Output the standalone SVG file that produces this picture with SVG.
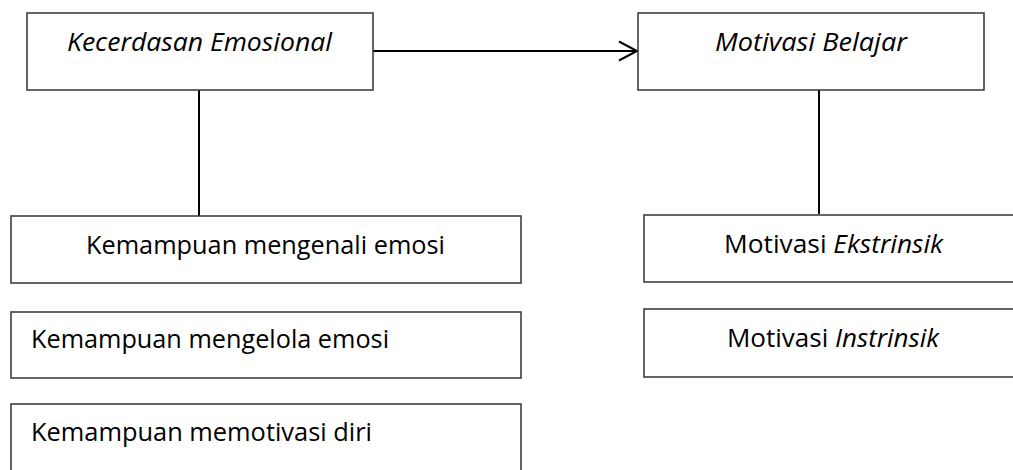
<svg xmlns="http://www.w3.org/2000/svg" width="1013" height="470" viewBox="0 0 1013 470">
<style>
.box{fill:#fff;stroke:#333;stroke-width:1.5}
.t{font-family:"Open Sans","Liberation Sans",sans-serif;font-size:26px;fill:#000}
.i{font-style:italic}
.con{stroke:#000;stroke-width:2;fill:none}
</style>
<rect width="1013" height="470" fill="#fff"/>
<g id="connectors">
<line class="con" x1="373" y1="51" x2="637" y2="51" stroke-width="2.5"/>
<polyline class="con" points="619,41.5 637,51 619,60.5" stroke-width="2.5"/>
<line class="con" x1="199" y1="90" x2="199" y2="216"/>
<line class="con" x1="819" y1="90" x2="819" y2="214"/>
</g>
<g id="kecerdasan">
<rect class="box" x="27" y="13" width="346" height="77"/>
<text class="t i" x="67" y="51" textLength="265" lengthAdjust="spacingAndGlyphs">Kecerdasan Emosional</text>
</g>
<g id="motivasi-belajar">
<rect class="box" x="638" y="13" width="346" height="77"/>
<text class="t i" x="715" y="51" textLength="192" lengthAdjust="spacingAndGlyphs">Motivasi Belajar</text>
</g>
<g id="mengenali">
<rect class="box" x="11" y="216" width="510" height="67"/>
<text class="t" x="86" y="254" textLength="359" lengthAdjust="spacingAndGlyphs">Kemampuan mengenali emosi</text>
</g>
<g id="mengelola">
<rect class="box" x="11" y="312" width="510" height="66"/>
<text class="t" x="31" y="348" textLength="358" lengthAdjust="spacingAndGlyphs">Kemampuan mengelola emosi</text>
</g>
<g id="memotivasi">
<rect class="box" x="11" y="404" width="510" height="80"/>
<text class="t" x="31" y="441" textLength="341" lengthAdjust="spacingAndGlyphs">Kemampuan memotivasi diri</text>
</g>
<g id="ekstrinsik">
<rect class="box" x="644" y="215" width="380" height="67"/>
<text class="t" x="724" y="253" textLength="219" lengthAdjust="spacingAndGlyphs">Motivasi <tspan class="i">Ekstrinsik</tspan></text>
</g>
<g id="instrinsik">
<rect class="box" x="644" y="309" width="380" height="68"/>
<text class="t" x="727" y="347" textLength="212" lengthAdjust="spacingAndGlyphs">Motivasi <tspan class="i">Instrinsik</tspan></text>
</g>
</svg>
